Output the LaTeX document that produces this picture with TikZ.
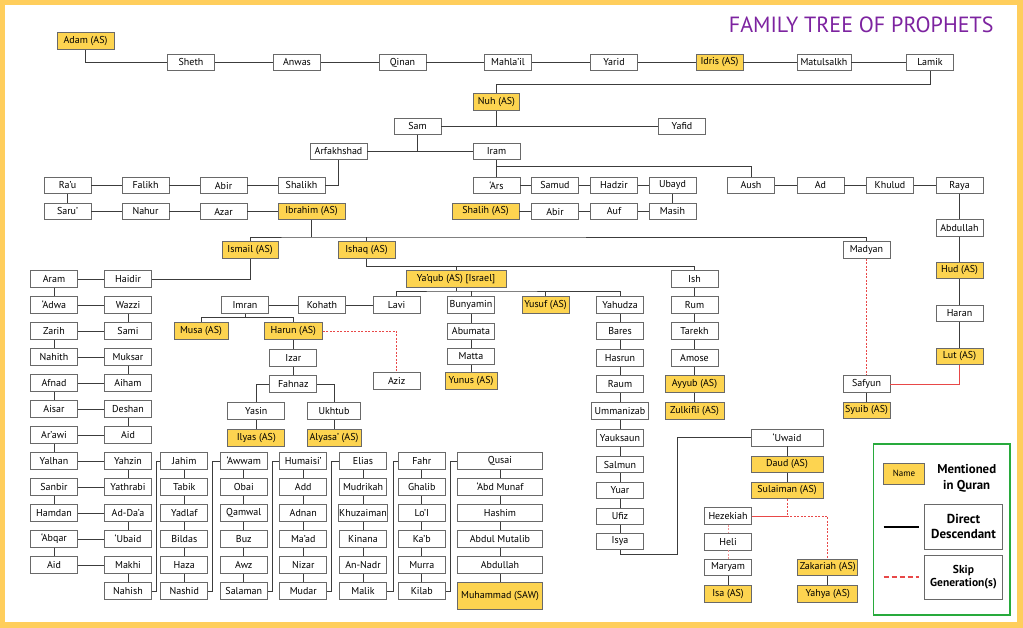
\documentclass[tikz,border=0pt]{standalone}
\usepackage{fontspec}
\setmainfont{PT Sans}
\definecolor{quran}{RGB}{253,212,80}
\definecolor{framegold}{RGB}{255,206,92}
\definecolor{boxline}{RGB}{105,105,105}
\definecolor{kinline}{RGB}{60,60,60}
\definecolor{skipred}{RGB}{232,72,72}
\definecolor{titlepurple}{RGB}{125,35,160}
\definecolor{legendgreen}{RGB}{40,170,60}

\begin{document}
\begin{tikzpicture}[x=1pt, y=-1pt,
  person/.style={draw=boxline, line width=0.9pt, fill=white, minimum width=47pt, minimum height=16.5pt, inner sep=1pt, font=\fontsize{10}{12}\selectfont},
  prophet/.style={person, fill=quran},
  kin/.style={kinline, line width=0.9pt},
  skipgen/.style={skipred, line width=0.8pt, dash pattern=on 2pt off 1.5pt}]

% Frame
\fill[framegold] (0,0) rectangle (1023,628);
\fill[white] (4.7,4.7) rectangle (1016.7,622.3);
\useasboundingbox (0,0) rectangle (1023,628);

% Title
\node[anchor=base east, text=titlepurple, font=\fontsize{22}{26}\selectfont] (title) at (997,32.5) {FAMILY TREE OF PROPHETS};

% Adam to Lamik
\node[prophet, minimum width=57pt] (adam) at (85.5,41) {Adam (AS)};
\node[person] (sheth) at (191,62.5) {Sheth};
\node[person] (anwas) at (297,62.5) {Anwas};
\node[person] (qinan) at (402.5,62.5) {Qinan};
\node[person] (mahlail) at (508,62.5) {Mahla’il};
\node[person] (yarid) at (614,62.5) {Yarid};
\node[prophet] (idris) at (719.5,62.5) {Idris (AS)};
\node[person, minimum width=54pt] (matulsalkh) at (824,62.5) {Matulsalkh};
\node[person] (lamik) at (930,62.5) {Lamik};

% Nuh and sons
\node[prophet, minimum width=46pt] (nuh) at (496.5,102) {Nuh (AS)};
\node[person] (sam) at (417.5,126.5) {Sam};
\node[person] (yafid) at (682,126.5) {Yafid};
\node[person, minimum width=57pt] (arfakhshad) at (338.5,151.5) {Arfakhshad};
\node[person] (iram) at (496.5,151.5) {Iram};

% Arfakhshad line
\node[person] (rau) at (67.5,185.5) {Ra’u};
\node[person] (falikh) at (145.5,185.5) {Falikh};
\node[person] (abira) at (223.5,185.5) {Abir};
\node[person] (shalikh) at (301.5,185.5) {Shalikh};
\node[person] (saru) at (67.5,211.5) {Saru’};
\node[person] (nahur) at (145.5,211.5) {Nahur};
\node[person] (azar) at (223.5,211.5) {Azar};
\node[prophet, minimum width=67pt] (ibrahim) at (311.5,211.5) {Ibrahim (AS)};

% Iram line
\node[person] (ars) at (496.5,185.5) {‘Ars};
\node[person] (samud) at (555,185.5) {Samud};
\node[person] (hadzir) at (614,185.5) {Hadzir};
\node[person] (ubayd) at (672.5,185.5) {Ubayd};
\node[prophet, minimum width=67pt] (shalih) at (485.5,211.5) {Shalih (AS)};
\node[person] (abirb) at (555,211.5) {Abir};
\node[person] (auf) at (614,211.5) {Auf};
\node[person] (masih) at (672.5,211.5) {Masih};
\node[person] (aush) at (751,185.5) {Aush};
\node[person] (ad) at (820.5,185.5) {Ad};
\node[person] (khulud) at (890,185.5) {Khulud};
\node[person] (raya) at (959.5,185.5) {Raya};
\node[person] (abdullahr) at (959.5,228) {Abdullah};
\node[prophet] (hud) at (959.5,270.5) {Hud (AS)};
\node[person] (haran) at (959.5,313.5) {Haran};
\node[prophet] (lut) at (959.5,356.5) {Lut (AS)};

% Ibrahim's sons
\node[prophet, minimum width=56pt] (ismail) at (250,250) {Ismail (AS)};
\node[prophet, minimum width=57pt] (ishaq) at (366.5,250) {Ishaq (AS)};
\node[person] (madyan) at (866.5,250) {Madyan};
\node[person] (safyun) at (866.5,384) {Safyun};
\node[prophet] (syuib) at (866.5,410.5) {Syuib (AS)};

% Ya'qub and Ish
\node[prophet, minimum width=100pt] (yaqub) at (456,279) {Ya’qub (AS) [Israel]};
\node[person] (ish) at (694.5,279) {Ish};
\node[person] (rum) at (694.5,305) {Rum};
\node[person] (tarekh) at (694.5,331) {Tarekh};
\node[person] (amose) at (694.5,358) {Amose};
\node[prophet, minimum width=59pt] (ayyub) at (694.5,384) {Ayyub (AS)};
\node[prophet, minimum width=59pt] (zulkifli) at (694.5,410.7) {Zulkifli (AS)};

% Sons of Ya'qub
\node[person] (imran) at (245,305) {Imran};
\node[person] (kohath) at (322,305) {Kohath};
\node[person] (lavi) at (396.7,305) {Lavi};
\node[person] (bunyamin) at (471,305) {Bunyamin};
\node[prophet] (yusuf) at (545.5,305) {Yusuf (AS)};
\node[person] (yahudza) at (620,305) {Yahudza};

% Musa and Harun
\node[prophet, minimum width=54pt] (musa) at (201,331) {Musa (AS)};
\node[prophet, minimum width=58pt] (harun) at (293.3,331) {Harun (AS)};
\node[person] (aziz) at (396.7,381) {Aziz};
\node[person] (izar) at (293.3,358) {Izar};
\node[person] (fahnaz) at (293.3,384) {Fahnaz};
\node[person, minimum width=57pt] (yasin) at (256.3,411) {Yasin};
\node[person, minimum width=53pt] (ukhtub) at (334,411) {Ukhtub};
\node[prophet, minimum width=57pt] (ilyas) at (256.3,438) {Ilyas (AS)};
\node[prophet, minimum width=54pt] (alyasa) at (334,438) {Alyasa’ (AS)};

% Bunyamin line
\node[person] (abumata) at (471,331.5) {Abumata};
\node[person] (matta) at (471,356.5) {Matta};
\node[prophet, minimum width=52pt] (yunus) at (471,381) {Yunus (AS)};

% Yahudza line
\node[person] (bares) at (620,331) {Bares};
\node[person] (hasrun) at (620,358) {Hasrun};
\node[person] (raum) at (620,384) {Raum};
\node[person, minimum width=57pt] (ummanizab) at (620,411) {Ummanizab};
\node[person] (yauksaun) at (620,438) {Yauksaun};
\node[person] (salmun) at (620,464.5) {Salmun};
\node[person] (yuar) at (620,490.5) {Yuar};
\node[person] (ufiz) at (620,516.5) {Ufiz};
\node[person] (isya) at (620,541.5) {Isya};

% 'Uwaid line
\node[person, minimum width=72pt] (uwaid) at (787,437.7) {‘Uwaid};
\node[prophet, minimum width=72pt] (daud) at (787,464.5) {Daud (AS)};
\node[prophet, minimum width=72pt] (sulaiman) at (787,490.3) {Sulaiman (AS)};
\node[person] (hezekiah) at (728,516) {Hezekiah};
\node[person] (heli) at (728,541.7) {Heli};
\node[person] (maryam) at (728,567.5) {Maryam};
\node[prophet] (isa) at (728,594) {Isa (AS)};
\node[prophet, minimum width=60pt] (zakariah) at (827.7,567.5) {Zakariah (AS)};
\node[prophet, minimum width=60pt] (yahya) at (827.7,594) {Yahya (AS)};

% Ismail line, left zig-zag
\node[person] (aram) at (54,279) {Aram};
\node[person] (haidir) at (128,279) {Haidir};
\node[person] (adwa) at (54,305) {‘Adwa};
\node[person] (wazzi) at (128,305) {Wazzi};
\node[person] (zarih) at (54,331) {Zarih};
\node[person] (sami) at (128,331) {Sami};
\node[person] (nahith) at (54,357) {Nahith};
\node[person] (muksar) at (128,357) {Muksar};
\node[person] (afnad) at (54,383) {Afnad};
\node[person] (aiham) at (128,383) {Aiham};
\node[person] (aisar) at (54,409) {Aisar};
\node[person] (deshan) at (128,409) {Deshan};
\node[person] (arawi) at (54,435) {Ar’awi};
\node[person] (aida) at (128,435) {Aid};
\node[person] (yalhan) at (54,461) {Yalhan};
\node[person] (yahzin) at (128,461) {Yahzin};
\node[person] (sanbir) at (54,487) {Sanbir};
\node[person] (yathrabi) at (128,487) {Yathrabi};
\node[person] (hamdan) at (54,513) {Hamdan};
\node[person] (adda) at (128,513) {Ad-Da’a};
\node[person] (abqar) at (54,539) {‘Abqar};
\node[person] (ubaid) at (128,539) {‘Ubaid};
\node[person] (aidb) at (54,565) {Aid};
\node[person] (makhi) at (128,565) {Makhi};
\node[person] (nahish) at (128,591) {Nahish};

% Ismail line, columns
\node[person] (jahim) at (184.3,461) {Jahim};
\node[person] (tabik) at (184.3,487) {Tabik};
\node[person] (yadlaf) at (184.3,513) {Yadlaf};
\node[person] (bildas) at (184.3,539) {Bildas};
\node[person] (haza) at (184.3,565) {Haza};
\node[person] (nashid) at (184.3,591) {Nashid};
\node[person] (awwam) at (243.8,461) {‘Awwam};
\node[person] (obai) at (243.8,487) {Obai};
\node[person] (qamwal) at (243.8,513) {Qamwal};
\node[person] (buz) at (243.8,539) {Buz};
\node[person] (awz) at (243.8,565) {Awz};
\node[person] (salaman) at (243.8,591) {Salaman};
\node[person] (humaisi) at (303.3,461) {Humaisi’};
\node[person] (add) at (303.3,487) {Add};
\node[person] (adnan) at (303.3,513) {Adnan};
\node[person] (maad) at (303.3,539) {Ma’ad};
\node[person] (nizar) at (303.3,565) {Nizar};
\node[person] (mudar) at (303.3,591) {Mudar};
\node[person] (elias) at (363,461) {Elias};
\node[person] (mudrikah) at (363,487) {Mudrikah};
\node[person] (khuzaiman) at (363,513) {Khuzaiman};
\node[person] (kinana) at (363,539) {Kinana};
\node[person] (annadr) at (363,565) {An-Nadr};
\node[person] (malik) at (363,591) {Malik};
\node[person] (fahr) at (421.8,461) {Fahr};
\node[person] (ghalib) at (421.8,487) {Ghalib};
\node[person] (loi) at (421.8,513) {Lo’I};
\node[person] (kab) at (421.8,539) {Ka’b};
\node[person] (murra) at (421.8,565) {Murra};
\node[person] (kilab) at (421.8,591) {Kilab};
\node[person, minimum width=85pt] (qusai) at (500,461) {Qusai};
\node[person, minimum width=85pt] (abdmunaf) at (500,487) {‘Abd Munaf};
\node[person, minimum width=85pt] (hashim) at (500,513) {Hashim};
\node[person, minimum width=85pt] (abdulmutalib) at (500,539) {Abdul Mutalib};
\node[person, minimum width=85pt] (abdullah) at (500,565) {Abdullah};
\node[prophet, minimum width=85pt, minimum height=26.3pt] (muhammad) at (500,595.8) {Muhammad (SAW)};

% Legend
\node[draw=legendgreen, line width=1.2pt, minimum width=136.7pt, minimum height=171pt] (legend) at (941.7,529.5) {};
\node[prophet, minimum width=41pt, minimum height=20.7pt, font=\fontsize{9}{11}\selectfont] (namebox) at (904,473.7) {Name};
\node[align=center, font=\fontsize{12.8}{15.5}\selectfont\bfseries] (mentioned) at (966.7,478.5) {Mentioned\\in Quran};
\node[person, minimum width=78.4pt, minimum height=44.7pt, align=center, font=\fontsize{13}{15.5}\selectfont\bfseries] (direct) at (963.5,526.7) {Direct\\Descendant};
\node[person, minimum width=78.4pt, minimum height=44.3pt, align=center, font=\fontsize{11.5}{12.5}\selectfont\bfseries] (skipbox) at (963.5,577.2) {Skip\\Generation(s)};
\draw[black, line width=1.6pt] ([xshift=-40.3pt]direct.west) -- ([xshift=-5pt]direct.west);
\draw[skipred, line width=1.6pt, dash pattern=on 5pt off 3pt] ([xshift=-40.3pt]skipbox.west) -- ([xshift=-5pt]skipbox.west);

% Adam to Nuh
\draw[kin] (adam.south) |- (sheth.west);
\draw[kin] (sheth) -- (anwas) -- (qinan) -- (mahlail) -- (yarid) -- (idris) -- (matulsalkh) -- (lamik);
\draw[kin] (lamik.south) -- ++(0,13) -| (nuh.north);
\draw[kin] (sam) -- (yafid);
\draw[kin] (nuh.south) -- (nuh.south |- sam.east);
\draw[kin] (arfakhshad) -- (iram);
\draw[kin] (sam.south) -- (sam.south |- iram.west);

% Arfakhshad to Ibrahim
\draw[kin] (arfakhshad.south) |- (shalikh.east);
\draw[kin] (shalikh) -- (abira) -- (falikh) -- (rau) -- (saru) -- (nahur) -- (azar) -- (ibrahim);

% Iram to Lut
\draw[kin] (iram) -- (ars) -- (samud) -- (hadzir) -- (ubayd) -- (masih) -- (auf) -- (abirb) -- (shalih);
\draw[kin] ([yshift=-6.7pt]iram.south) -| (aush.north);
\draw[kin] (aush) -- (ad) -- (khulud) -- (raya) -- (abdullahr) -- (hud) -- (haran) -- (lut);
\draw[skipred, line width=0.8pt] (lut.south) |- (safyun.east);

% Ibrahim's sons
\coordinate (ibr) at (311.5,237);
\draw[kin] (ibrahim) -- (ibr);
\draw[kin] (ismail.north) |- (ibr) -| (madyan.north);
\draw[kin] (ishaq.north) -- (ishaq.north |- ibr);
\draw[skipgen] (madyan) -- (safyun);
\draw[kin] (safyun) -- (syuib);

% Ishaq's sons
\coordinate (isq) at (366.5,266);
\draw[kin] (ishaq.south) -- (isq) -| (ish.north);
\draw[kin] (yaqub.north) -- (yaqub.north |- isq);
\draw[kin] (ish) -- (rum) -- (tarekh) -- (amose) -- (ayyub) -- (zulkifli);

% Ya'qub's sons
\coordinate (yqb) at (456,291);
\draw[kin] (yaqub.south) -- (yqb);
\draw[kin] (lavi.north) |- (yqb) -| (yahudza.north);
\draw[kin] (bunyamin.north) -- (bunyamin.north |- yqb);
\draw[kin] (yusuf.north) -- (yusuf.north |- yqb);
\draw[kin] (lavi) -- (kohath) -- (imran);
\draw[kin] (bunyamin) -- (abumata) -- (matta) -- (yunus);

% Imran to Alyasa'
\coordinate (imr) at (245,317.7);
\draw[kin] (imran.south) -- (imr);
\draw[kin] (musa.north) |- (imr) -| (harun.north);
\draw[skipgen] (harun.east) -| (aziz.north);
\draw[kin] (harun) -- (izar) -- (fahnaz);
\draw[kin] (fahnaz.west) -| (yasin.north);
\draw[kin] (fahnaz.east) -| (ukhtub.north);
\draw[kin] (yasin) -- (ilyas);
\draw[kin] (ukhtub) -- (alyasa);

% Yahudza to Isa
\draw[kin] (yahudza) -- (bares) -- (hasrun) -- (raum) -- (ummanizab) -- (yauksaun) -- (salmun) -- (yuar) -- (ufiz) -- (isya);
\coordinate (isu) at (677.3,554.3);
\draw[kin] (isya.south) |- (isu) |- (uwaid.west);
\draw[kin] (uwaid) -- (daud) -- (sulaiman);
\draw[skipgen] (sulaiman.south) |- (hezekiah.east);
\draw[skipgen] (hezekiah.east) -| (zakariah.north);
\draw[skipgen, skipred!60] (hezekiah) -- (heli) -- (maryam);
\draw[kin] (maryam) -- (isa);
\draw[kin] (zakariah) -- (yahya);

% Ismail to Muhammad
\draw[kin] (ismail.south) |- (haidir.east);
\draw[kin] (haidir) -- (aram) -- (adwa) -- (wazzi) -- (sami) -- (zarih) -- (nahith) -- (muksar) -- (aiham) -- (afnad) -- (aisar) -- (deshan) -- (aida) -- (arawi) -- (yalhan) -- (yahzin) -- (yathrabi) -- (sanbir) -- (hamdan) -- (adda) -- (ubaid) -- (abqar) -- (aidb) -- (makhi) -- (nahish);
\draw[kin] (nahish.east) -- ++(4.5,0) |- (jahim.west);
\draw[kin] (jahim) -- (tabik) -- (yadlaf) -- (bildas) -- (haza) -- (nashid);
\draw[kin] (nashid.east) -- ++(4.5,0) |- (awwam.west);
\draw[kin] (awwam) -- (obai) -- (qamwal) -- (buz) -- (awz) -- (salaman);
\draw[kin] (salaman.east) -- ++(4.5,0) |- (humaisi.west);
\draw[kin] (humaisi) -- (add) -- (adnan) -- (maad) -- (nizar) -- (mudar);
\draw[kin] (mudar.east) -- ++(4.5,0) |- (elias.west);
\draw[kin] (elias) -- (mudrikah) -- (khuzaiman) -- (kinana) -- (annadr) -- (malik);
\draw[kin] (malik.east) -- ++(6,0) |- (fahr.west);
\draw[kin] (fahr) -- (ghalib) -- (loi) -- (kab) -- (murra) -- (kilab);
\draw[kin] (kilab.east) -- ++(4.5,0) |- (qusai.west);
\draw[kin] (qusai) -- (abdmunaf) -- (hashim) -- (abdulmutalib) -- (abdullah) -- (muhammad);
\end{tikzpicture}
\end{document}
